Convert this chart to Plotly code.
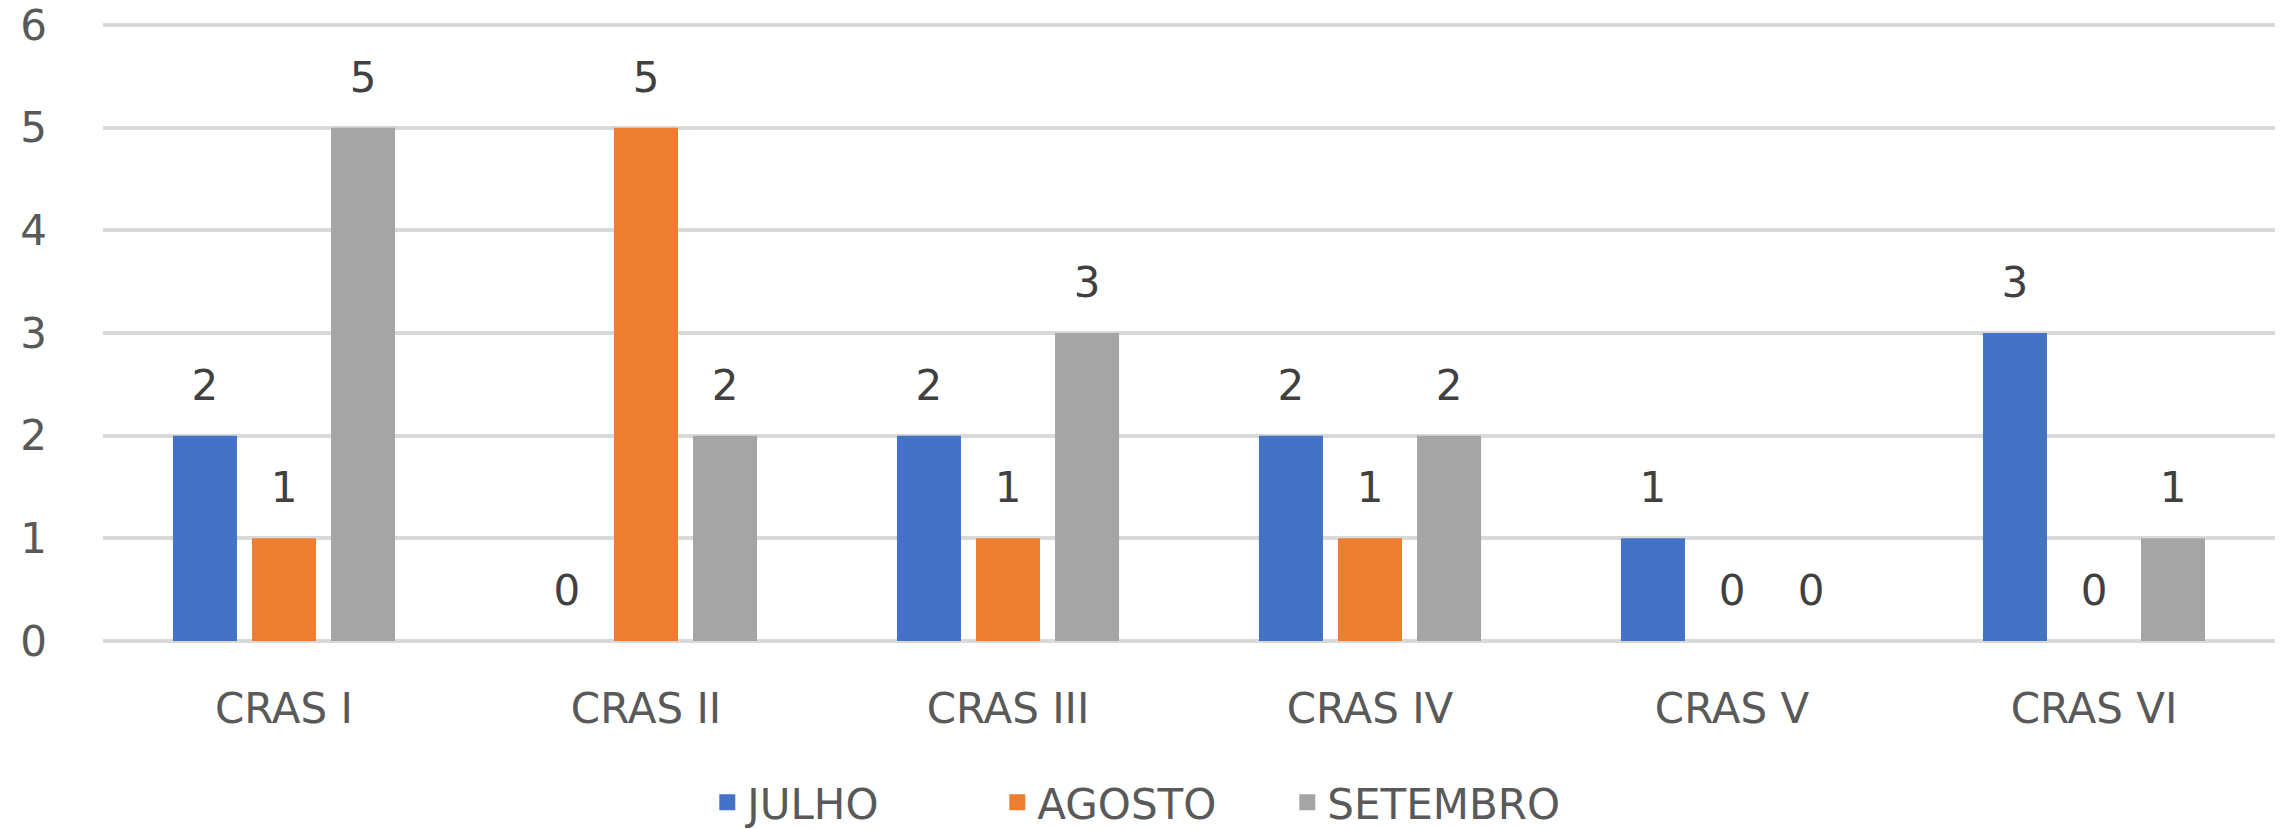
import plotly.graph_objects as go

categories = ["CRAS I", "CRAS II", "CRAS III", "CRAS IV", "CRAS V", "CRAS VI"]
series_names = ["JULHO", "AGOSTO", "SETEMBRO"]
julho = [2, 0, 2, 2, 1, 3]
agosto = [1, 5, 1, 1, 0, 0]
setembro = [5, 2, 3, 2, 0, 1]
y_ticks = [0, 1, 2, 3, 4, 5, 6]

colors = ["#4472C4", "#ED7D31", "#A5A5A5"]
groups = ["a", "b", "c"]
FONT = "DejaVu Sans"
FS = 42
GAP = 0.345

fig = go.Figure()
for name, vals, col in zip(series_names, [julho, agosto, setembro], colors):
    fig.add_trace(go.Bar(
        x=categories, y=vals, name=name, marker_color=col, marker_line_width=0,
        hoverinfo="x+y+name", showlegend=False, legendgroup=name,
    ))
for name, vals, grp in zip(series_names, [julho, agosto, setembro], groups):
    fig.add_trace(go.Scatter(
        x=categories, y=vals, mode="markers+text", text=[str(v) for v in vals],
        textposition="top center", textfont=dict(family=FONT, size=FS, color="#404040"),
        marker=dict(size=39, opacity=0), offsetgroup=grp, alignmentgroup="lbl",
        showlegend=False, hoverinfo="skip", cliponaxis=False, legendgroup=name,
    ))
# legend entries (square keys)
for name, col, grp in zip(series_names, colors, groups):
    fig.add_trace(go.Scatter(
        x=[None], y=[None], mode="markers", name=name, legendgroup=name,
        marker=dict(symbol="square", size=30, color=col), offsetgroup=grp,
        alignmentgroup="lbl", hoverinfo="skip",
    ))

fig.update_layout(
    width=2285, height=829,
    margin=dict(l=103, r=10, t=22, b=185, autoexpand=False),
    paper_bgcolor="white", plot_bgcolor="white",
    barmode="group", bargap=GAP, bargroupgap=0.19,
    scattermode="group", scattergap=GAP,
    font=dict(family=FONT, size=FS, color="#595959"),
    legend=dict(orientation="h", x=0.4785, xanchor="center", y=0.032, yanchor="middle",
                yref="container", entrywidth=245, entrywidthmode="pixels", itemsizing="trace",
                font=dict(family=FONT, size=FS, color="#595959"), traceorder="normal"),
    showlegend=True,
)
fig.update_yaxes(range=[-0.03, 6.03], tickvals=y_ticks, showgrid=True, gridcolor="#D9D9D9", gridwidth=4,
                 zeroline=False, showline=False, ticks="", ticklabelstandoff=55, automargin=False,
                 ticklabeloverflow="allow",
                 tickfont=dict(family=FONT, size=FS, color="#595959"))
fig.update_xaxes(showgrid=False, showline=False, ticks="", ticklabelstandoff=36, automargin=False,
                 tickfont=dict(family=FONT, size=FS, color="#595959"))

fig.write_html("out.html", config={"displayModeBar": False},
               post_script="document.body.style.margin='0';")
